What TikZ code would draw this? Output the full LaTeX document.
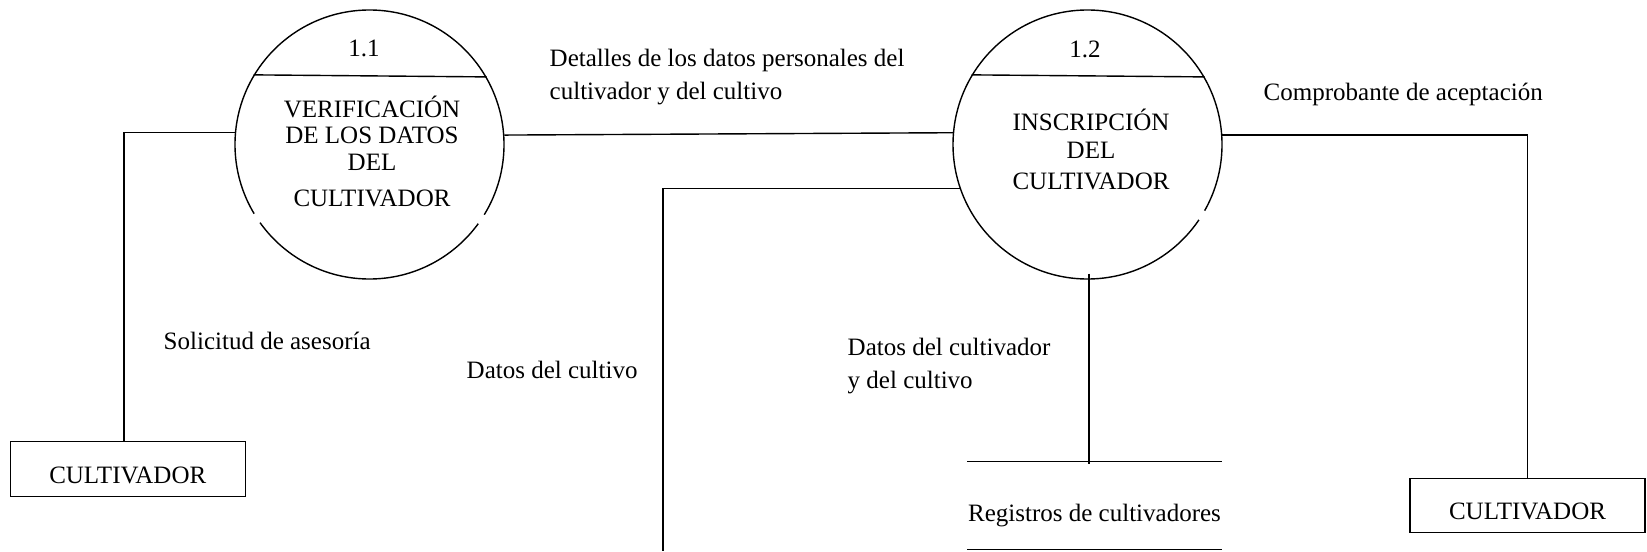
\documentclass[tikz,border=0pt]{standalone}
\usepackage{fontspec}
\setmainfont{Liberation Serif}
\begin{document}
\begin{tikzpicture}[x=0.5pt,y=-0.5pt,
  line width=0.7pt,
  every node/.style={font=\fontsize{12.5}{16}\selectfont, inner sep=0pt},
  proc/.style={draw, circle, minimum size=134.5pt},
  circgap/.style={draw=white, line width=2.2pt},
  entity/.style={draw, minimum width=117.5pt, minimum height=27.25pt, text height=14.1pt, text depth=0pt},
  datastore/.style={minimum width=126.5pt, minimum height=43.5pt, text height=16pt, text depth=0pt},
  lbl/.style={align=left, anchor=base west},
  ptext/.style={align=center, anchor=base}]
\useasboundingbox (0,0) rectangle (1647,551);

% processes
\node[proc] (c1) at (369.5,144.5) {};
\node[proc] (c2) at (1087.5,144.5) {};
\draw (c1.149.4) -- (c1.30.6);
\draw (c2.149.4) -- (c2.30.6);
% small breaks in the circle outlines
\draw[circgap] (c1.211) arc[start angle=211, end angle=215.5, radius=67.25pt];
\draw[circgap] (c1.324.5) arc[start angle=324.5, end angle=329, radius=67.25pt];
\draw[circgap] (c2.326) arc[start angle=326, end angle=330.5, radius=67.25pt];

\node[ptext] (n11) at (364,57) {1.1};
\node[ptext] (n12) at (1085,58) {1.2};
\node[ptext, font=\fontsize{12.5}{13.3}\selectfont] (t1) at (372,206)
  {VERIFICACIÓN\\DE LOS DATOS\\DEL\\[4.5pt]CULTIVADOR};
\node[ptext, font=\fontsize{12.5}{14}\selectfont] (t2) at (1091,189)
  {INSCRIPCIÓN\\DEL\\[1.2pt]CULTIVADOR};

% entities
\node[entity] (e1) at (127.75,469) {CULTIVADOR};
\node[entity] (e2) at (1527.5,505.5) {CULTIVADOR};

% data store
\node[datastore] (ds) at (1094.5,505.5) {Registros de cultivadores};
\draw (ds.north west) -- (ds.north east) (ds.south west) -- (ds.south east);

% labels
\node[lbl] (l1) at (549,99) {Detalles de los datos personales del\\[0.3pt]cultivador y del cultivo};
\node[lbl] (l2) at (1263,100) {Comprobante de aceptación};
\node[lbl] (l3) at (163,349) {Solicitud de asesoría};
\node[lbl] (l4) at (466,378) {Datos del cultivo};
\node[lbl] (l5) at (847,388) {Datos del cultivador\\[0.5pt]y del cultivo};

% connectors
\draw (c1.175.7) -| (124,0 |- e1.north);
\draw (c1.4.3) -- (c2.175.7);
\coordinate (dcend) at (663,551);
\draw (c2.199.8) -| (dcend);
\draw (c2.4.3) -| (e2.north);
\draw ([xshift=0.75pt,yshift=3pt]c2.south) -- ([xshift=0.75pt,yshift=-1.5pt]c2.south |- ds.north);
\end{tikzpicture}
\end{document}
